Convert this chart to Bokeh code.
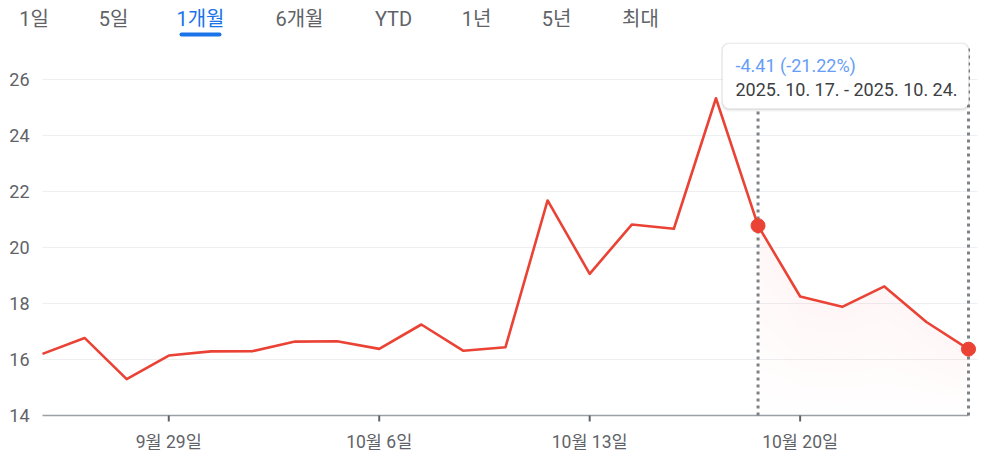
from bokeh.plotting import figure
from bokeh.models import Range1d, BoxAnnotation, Label
from bokeh.core.properties import value
from bokeh.embed import file_html
from bokeh.resources import INLINE

# ---------------- data ----------------
dates = ["2025-09-24", "2025-09-25", "2025-09-26", "2025-09-29", "2025-09-30",
         "2025-10-01", "2025-10-02", "2025-10-03", "2025-10-06", "2025-10-07",
         "2025-10-08", "2025-10-09", "2025-10-10", "2025-10-13", "2025-10-14",
         "2025-10-15", "2025-10-16", "2025-10-17", "2025-10-20", "2025-10-21",
         "2025-10-22", "2025-10-23", "2025-10-24"]
prices = [16.20, 16.77, 15.30, 16.14, 16.29, 16.30, 16.64, 16.65, 16.38, 17.25,
          16.31, 16.44, 21.68, 19.06, 20.82, 20.67, 25.33, 20.78, 18.25, 17.88,
          18.61, 17.34, 16.37]
x_tick_pos = [3, 8, 13, 18]
x_tick_labels = ["9월 29일", "10월 6일", "10월 13일", "10월 20일"]
y_ticks = [14, 16, 18, 20, 22, 24, 26]
tabs = ["1일", "5일", "1개월", "6개월", "YTD", "1년", "5년", "최대"]
selected_tab = "1개월"
sel_start, sel_end = 17, 22
change_text = "-4.41 (-21.22%)"
range_text = "2025. 10. 17. - 2025. 10. 24."

# ---------------- layout helpers ----------------
FONT_STR = "Roboto, 'Noto Sans CJK KR', sans-serif"
FONT = value(FONT_STR)
RED = "#ea4335"
GRAY_TXT = "#5f6368"
W, H = 985, 456
BASE_PX = 415                  # page y of the baseline
n = len(prices)
DX = (968 - 42) / (n - 1)       # px per trading day
DY = 28.0                      # px per price unit
y_min = y_ticks[0]


def xd(px):  # page px -> data x
    return (px - 42) / DX


def yd(py):  # page px -> data y
    return y_min + (BASE_PX - py) / DY


idx = list(range(n))

p = figure(width=W, height=H, output_backend="svg", toolbar_location=None,
           x_range=Range1d(xd(0), xd(W)), y_range=Range1d(yd(H), yd(0)),
           y_axis_location=None, x_axis_location=None,
           min_border_left=0, min_border_right=0, min_border_top=0,
           min_border_bottom=0)
p.outline_line_color = None
p.background_fill_color = "white"
p.border_fill_color = "white"
p.xgrid.visible = False
p.ygrid.visible = False

# horizontal gridlines (above the baseline)
grid_vals = [t for t in y_ticks if t > y_min]
p.segment(x0=[0] * len(grid_vals), x1=[xd(977)] * len(grid_vals),
          y0=grid_vals, y1=grid_vals, line_color="#eeeff1", line_width=1)

# y tick labels
p.text(x=[xd(29)] * len(y_ticks), y=y_ticks, text=[str(t) for t in y_ticks],
       text_align="right", text_baseline="middle", text_font=FONT,
       text_font_size="18px", text_color=GRAY_TXT)

# x axis: baseline, ticks, labels
p.segment(x0=[0], x1=[n - 1], y0=[y_min], y1=[y_min],
          line_color="#9aa0a6", line_width=1.5)
p.segment(x0=x_tick_pos, x1=x_tick_pos, y0=[y_min] * len(x_tick_pos),
          y1=[yd(BASE_PX + 6)] * len(x_tick_pos), line_color=GRAY_TXT, line_width=2)
p.text(x=x_tick_pos, y=[yd(441.5)] * len(x_tick_pos), text=x_tick_labels,
       text_align="center", text_baseline="middle", text_font=FONT,
       text_font_size="17.5px", text_color=GRAY_TXT)

# shaded selection area (approximate vertical gradient)
sx = idx[sel_start:sel_end + 1]
sy = prices[sel_start:sel_end + 1]
for k in range(1, 9):
    f = k / 8
    low = [v - (v - y_min) * f for v in sy]
    p.varea(x=sx, y1=low, y2=sy, fill_color="#ea4352", fill_alpha=0.008)

# dotted verticals
p.segment(x0=[sel_start, sel_end], x1=[sel_start, sel_end],
          y0=[y_min, y_min], y1=[yd(45), yd(45)],
          line_color="#7d8287", line_width=3, line_dash="3 4")

# price line
p.line(idx, prices, line_color=RED, line_width=2.6, line_join="round")
p.scatter([sel_start, sel_end], [prices[sel_start], prices[sel_end]],
          size=14, fill_color=RED, line_color=RED)

# tabs
tab_px = [33.5, 113, 200, 299, 393, 476, 556, 640]
p.text(x=[xd(v) for v in tab_px], y=[yd(18.5)] * len(tabs), text=tabs,
       text_align="center", text_baseline="middle", text_font=FONT,
       text_font_size="20px",
       text_color=["#1a73e8" if t == selected_tab else GRAY_TXT for t in tabs])
sel_i = tabs.index(selected_tab)
p.rect(x=[xd(tab_px[sel_i])], y=[yd(34)], width=42, height=4,
       width_units="screen", height_units="screen",
       fill_color="#1a73e8", line_color=None, border_radius=2)

# tooltip box with shadow
for off, a in ((3, 0.05), (1.5, 0.08)):
    p.add_layout(BoxAnnotation(left=xd(722 - off / 2), right=xd(968 + off / 2),
                               top=yd(43 - off / 3), bottom=yd(108 + off),
                               fill_color="black", fill_alpha=a,
                               line_color=None, border_radius=8,
                               editable=False))
p.add_layout(BoxAnnotation(left=xd(722), right=xd(968), top=yd(43), bottom=yd(108),
                           fill_color="white", fill_alpha=1.0,
                           line_color="#e3e4e6", line_width=1, border_radius=7,
                           editable=False))
p.add_layout(Label(x=xd(735), y=yd(64.5), text=change_text,
                   text_font="Roboto, sans-serif", text_font_size="18px",
                   text_color="#669df6", text_baseline="middle", text_align="left"))
p.add_layout(Label(x=xd(735), y=yd(88.5), text=range_text,
                   text_font="Roboto, sans-serif", text_font_size="18px",
                   text_color="#3c4043", text_baseline="middle", text_align="left"))

open("out.html", "w").write(file_html(p, INLINE))
